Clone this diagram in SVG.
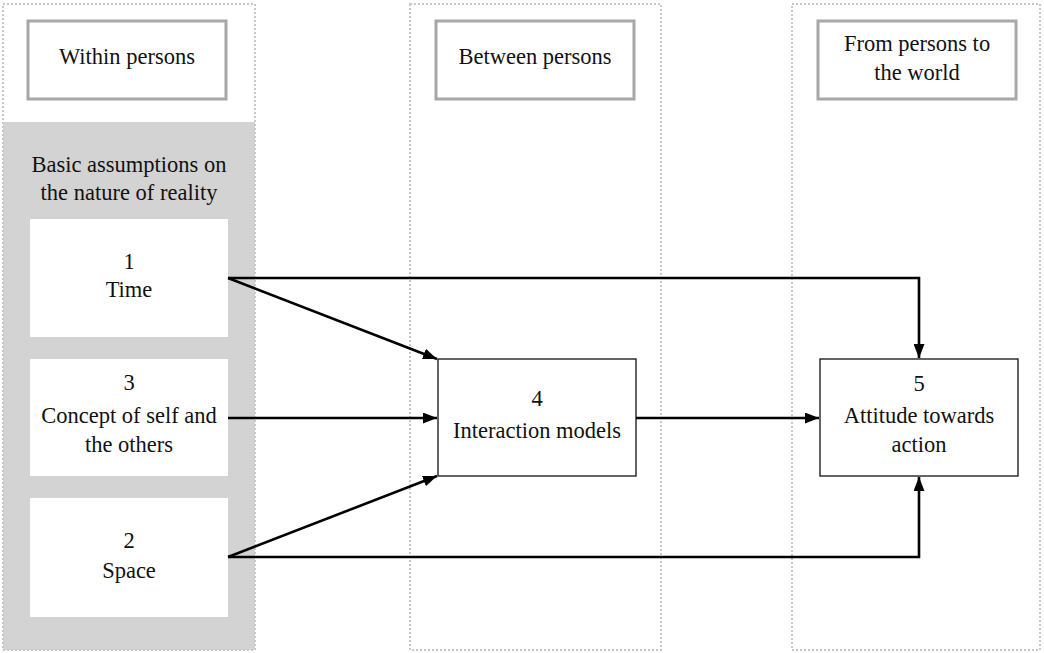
<svg xmlns="http://www.w3.org/2000/svg" width="1044" height="653" viewBox="0 0 1044 653">
  <style>
    .col { fill: none; stroke: #c8c8c8; stroke-width: 2; stroke-dasharray: 2 2; }
    .head { fill: #fff; stroke: #a8a8a8; stroke-width: 3; }
    .item { fill: #fff; stroke: none; }
    .node { fill: #fff; stroke: #111; stroke-width: 1.3; }
    .conn { fill: none; stroke: #000; stroke-width: 2.6; }
    text { font-family: "Liberation Serif", "Times New Roman", serif; font-size: 22.5px; fill: #111; text-anchor: middle; }
  </style>
  <defs>
    <marker id="arrow" viewBox="0 0 14 11" refX="14" refY="5.5" markerWidth="14" markerHeight="11" markerUnits="userSpaceOnUse" orient="auto">
      <path d="M0,0 L14,5.5 L0,11 z" fill="#000"/>
    </marker>
  </defs>

  <!-- column frames -->
  <g id="columns">
    <rect x="3" y="122" width="252" height="528" fill="#d3d3d3"/>
    <rect class="col" x="3" y="4" width="252" height="646"/>
    <rect class="col" x="410" y="4" width="251" height="646"/>
    <rect class="col" x="792" y="4" width="248" height="646"/>
  </g>

  <!-- column headers -->
  <g id="head-within">
    <rect class="head" x="28" y="21" width="198" height="78"/>
    <text x="127" y="64">Within persons</text>
  </g>
  <g id="head-between">
    <rect class="head" x="436" y="21" width="198" height="78"/>
    <text x="535" y="64">Between persons</text>
  </g>
  <g id="head-world">
    <rect class="head" x="818" y="21" width="198" height="78"/>
    <text x="917" y="51">From persons to</text>
    <text x="917" y="80">the world</text>
  </g>

  <g id="basic-assumptions">
    <text x="129" y="172">Basic assumptions on</text>
    <text x="129" y="200">the nature of reality</text>
  </g>

  <!-- nodes -->
  <g id="node-time">
    <rect class="item" x="30" y="219" width="198" height="118"/>
    <text x="129" y="269">1</text>
    <text x="129" y="297">Time</text>
  </g>
  <g id="node-self">
    <rect class="item" x="30" y="359" width="198" height="117"/>
    <text x="129" y="390">3</text>
    <text x="129" y="423">Concept of self and</text>
    <text x="129" y="452">the others</text>
  </g>
  <g id="node-space">
    <rect class="item" x="30" y="498" width="198" height="119"/>
    <text x="129" y="548">2</text>
    <text x="129" y="578">Space</text>
  </g>
  <g id="node-interaction">
    <rect class="node" x="438" y="359" width="198" height="117"/>
    <text x="537" y="406">4</text>
    <text x="537" y="438">Interaction models</text>
  </g>
  <g id="node-attitude">
    <rect class="node" x="820" y="359" width="198" height="117"/>
    <text x="919" y="391">5</text>
    <text x="919" y="423">Attitude towards</text>
    <text x="919" y="452">action</text>
  </g>

  <!-- connectors -->
  <g id="connectors">
    <path class="conn" d="M228,278 L919,278 L919,358" marker-end="url(#arrow)"/>
    <path class="conn" d="M228,278 L437,359" marker-end="url(#arrow)"/>
    <path class="conn" d="M228,418 L437,418" marker-end="url(#arrow)"/>
    <path class="conn" d="M228,557 L437,476" marker-end="url(#arrow)"/>
    <path class="conn" d="M636,418 L819,418" marker-end="url(#arrow)"/>
    <path class="conn" d="M228,557 L919,557 L919,477" marker-end="url(#arrow)"/>
  </g>
</svg>
